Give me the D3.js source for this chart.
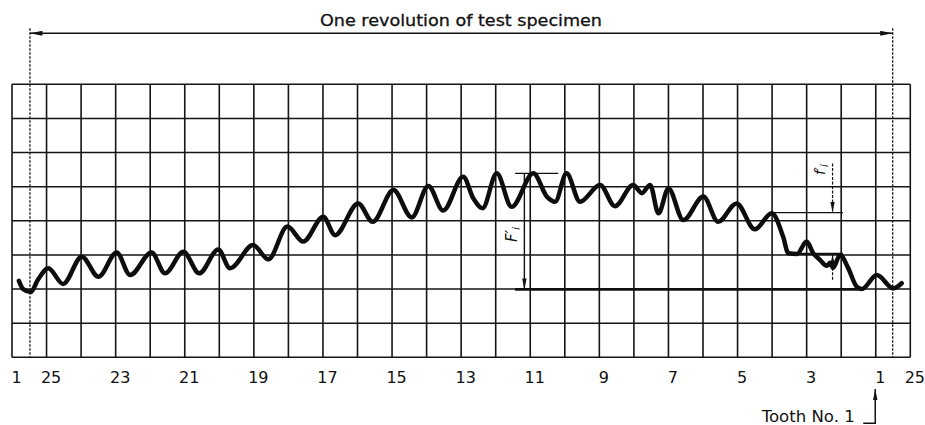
<!DOCTYPE html>
<html>
<head>
<meta charset="utf-8">
<script src="https://cdn.jsdelivr.net/npm/d3@7"></script>
<style>
  body { margin: 0; background: #fff; }
  svg { display: block; }
  text { font-family: "DejaVu Sans", sans-serif; fill: #111; }
</style>
</head>
<body>
<svg></svg>
<script>
// chart size
let vWidth = 925;
let vHeight = 425;

// tooth label positions (grid column index) and their text
let labelPos = [0, 1, 3, 5, 7, 9, 11, 13, 15, 17, 19, 21, 23, 25, 26];
let labelText = ["1", "25", "23", "21", "19", "17", "15", "13", "11", "9", "7", "5", "3", "1", "25"];

// trace of the composite deviation: position in teeth, deviation in grid units
let curveU = [0.20, 0.32, 0.54, 0.75, 1.05, 1.48, 2.02, 2.50, 3.03, 3.42, 4.04, 4.43, 4.96, 5.42,
  5.97, 6.31, 6.98, 7.42, 7.97, 8.43, 9.01, 9.35, 10.02, 10.44, 11.04, 11.57, 12.05, 12.48,
  13.06, 13.35, 13.62, 14.03, 14.46, 15.09, 15.48, 15.72, 16.05, 16.44, 17.02, 17.45, 17.98,
  18.23, 18.47, 18.71, 19.00, 19.43, 20.01, 20.44, 20.97, 21.50, 21.99, 22.32, 22.47, 22.72,
  23.00, 23.19, 23.39, 23.58, 23.68, 23.76, 23.97, 24.20, 24.45, 24.60, 25.03, 25.51, 25.75];
let curveV = [2.24, 2.00, 1.91, 2.27, 2.61, 2.15, 2.95, 2.36, 3.07, 2.41, 3.07, 2.46, 3.09, 2.46,
  3.16, 2.61, 3.29, 2.87, 3.83, 3.39, 4.12, 3.58, 4.51, 3.97, 4.90, 4.10, 5.02, 4.30,
  5.29, 4.66, 4.37, 5.39, 4.41, 5.39, 4.71, 4.56, 5.39, 4.56, 5.05, 4.43, 5.05,
  4.81, 5.05, 4.22, 4.95, 4.02, 4.71, 3.97, 4.51, 3.75, 4.22, 3.53, 3.05, 3.03,
  3.39, 3.05, 2.85, 2.68, 2.77, 2.62, 3.00, 2.62, 2.07, 2.00, 2.41, 2.02, 2.17];

// total composite deviation F'i : levels and spans
let bigLevels = [5.39, 1.99];
let bigSpanTop = [14.56, 15.81];
let bigSpanLow = [14.56, 24.6];
let bigArrowU = 14.83;
// tooth-to-tooth deviation f'i : levels, spans and arrow position
let smallLevels = [4.24, 3.03];
let smallSpanTop = [21.98, 24.05];
let smallSpanLow = [22.43, 24.05];
let smallArrowU = 23.75;

// one revolution marks
let revStart = 0.52;
let revEnd = 25.49;

let svg = d3.select('svg')
  .attr('width', vWidth)
  .attr('height', vHeight);

let x = d3.scaleLinear().domain([0, 26]).range([12, 910.3]);
let y = d3.scaleLinear().domain([0, 8]).range([357.3, 84.3]);

let defs = svg.append('defs');
defs.append('marker')
  .attr('id', 'arr')
  .attr('viewBox', '0 0 10 4')
  .attr('refX', 10)
  .attr('refY', 2)
  .attr('markerWidth', 16)
  .attr('markerHeight', 5)
  .attr('markerUnits', 'userSpaceOnUse')
  .attr('orient', 'auto-start-reverse')
  .append('path')
  .attr('d', 'M0,0 L10,2 L0,4 Z')
  .attr('fill', '#111');
defs.append('marker')
  .attr('id', 'arrS')
  .attr('viewBox', '0 0 10 4')
  .attr('refX', 10)
  .attr('refY', 2)
  .attr('markerWidth', 11)
  .attr('markerHeight', 4.5)
  .attr('markerUnits', 'userSpaceOnUse')
  .attr('orient', 'auto-start-reverse')
  .append('path')
  .attr('d', 'M0,0 L10,2 L0,4 Z')
  .attr('fill', '#111');

// grid
let grid = svg.append('g').attr('stroke', '#151515').attr('stroke-width', 1.6);
grid.selectAll('line.v')
  .data(d3.range(0, 27))
  .enter()
  .append('line')
  .attr('x1', (d) => x(d))
  .attr('x2', (d) => x(d))
  .attr('y1', y(8))
  .attr('y2', y(0));
grid.selectAll('line.h')
  .data(d3.range(0, 9))
  .enter()
  .append('line')
  .attr('x1', x(0))
  .attr('x2', x(26))
  .attr('y1', (d) => y(d))
  .attr('y2', (d) => y(d));

// revolution extension lines and dimension arrow
let dimY = 33.3;
svg.selectAll('line.ext')
  .data([revStart, revEnd])
  .enter()
  .append('line')
  .attr('x1', (d) => x(d))
  .attr('x2', (d) => x(d))
  .attr('y1', dimY - 5)
  .attr('y2', y(0))
  .attr('stroke', '#1a1a1a')
  .attr('stroke-width', 1.3)
  .attr('stroke-dasharray', '2.5,1.5');
svg.append('line')
  .attr('x1', x(revStart))
  .attr('x2', x(revEnd))
  .attr('y1', dimY)
  .attr('y2', dimY)
  .attr('stroke', '#111')
  .attr('stroke-width', 1.4)
  .attr('marker-start', 'url(#arr)')
  .attr('marker-end', 'url(#arr)');
svg.append('text')
  .attr('x', 320)
  .attr('y', 26)
  .attr('textLength', 282)
  .attr('lengthAdjust', 'spacingAndGlyphs')
  .style('font-size', '16px')
  .style('stroke', '#111')
  .style('stroke-width', 0.3)
  .text('One revolution of test specimen');

// F'i annotation
svg.append('line')
  .attr('x1', x(bigSpanTop[0])).attr('x2', x(bigSpanTop[1]))
  .attr('y1', y(bigLevels[0])).attr('y2', y(bigLevels[0]))
  .attr('stroke', '#111').attr('stroke-width', 1.4);
svg.append('line')
  .attr('x1', x(bigSpanLow[0])).attr('x2', x(bigSpanLow[1]))
  .attr('y1', y(bigLevels[1])).attr('y2', y(bigLevels[1]))
  .attr('stroke', '#111').attr('stroke-width', 2.6);
svg.append('line')
  .attr('x1', x(bigArrowU)).attr('x2', x(bigArrowU))
  .attr('y1', y(bigLevels[0])).attr('y2', y(bigLevels[1]))
  .attr('stroke', '#111').attr('stroke-width', 1.4)
  .attr('marker-end', 'url(#arrS)');
let fBig = svg.append('text')
  .attr('transform', `translate(${x(bigArrowU) - 7}, ${y(3.6)}) rotate(-90)`)
  .attr('text-anchor', 'middle')
  .style('font-size', '15px')
  .style('font-style', 'italic');
fBig.append('tspan').text('F');
fBig.append('tspan').text('′');
fBig.append('tspan').attr('dy', 3).style('font-size', '11px').text('i');

// f'i annotation
svg.append('line')
  .attr('x1', x(smallSpanTop[0])).attr('x2', x(smallSpanTop[1]))
  .attr('y1', y(smallLevels[0])).attr('y2', y(smallLevels[0]))
  .attr('stroke', '#111').attr('stroke-width', 1.4);
svg.append('line')
  .attr('x1', x(smallSpanLow[0])).attr('x2', x(smallSpanLow[1]))
  .attr('y1', y(smallLevels[1])).attr('y2', y(smallLevels[1]))
  .attr('stroke', '#111').attr('stroke-width', 2.2);
svg.append('line')
  .attr('x1', x(smallArrowU)).attr('x2', x(smallArrowU))
  .attr('y1', y(5.68)).attr('y2', y(smallLevels[0]))
  .attr('stroke', '#111').attr('stroke-width', 1.2)
  .attr('stroke-dasharray', '3,1.5')
  .attr('marker-end', 'url(#arrS)');
svg.append('line')
  .attr('x1', x(smallArrowU)).attr('x2', x(smallArrowU))
  .attr('y1', y(2.27)).attr('y2', y(smallLevels[1]))
  .attr('stroke', '#111').attr('stroke-width', 1.2)
  .attr('stroke-dasharray', '3,1.5')
  .attr('marker-end', 'url(#arrS)');
let fSmall = svg.append('text')
  .attr('transform', `translate(${x(smallArrowU) - 8}, ${y(5.5)}) rotate(-90)`)
  .attr('text-anchor', 'middle')
  .style('font-size', '14px')
  .style('font-style', 'italic');
fSmall.append('tspan').text('f');
fSmall.append('tspan').text('′');
fSmall.append('tspan').attr('dy', 3).style('font-size', '10px').text('i');

// the recorded curve
let vLine = d3.line()
  .x((d, i) => x(curveU[i]))
  .y((d, i) => y(curveV[i]))
  .curve(d3.curveMonotoneX);
svg.append('path')
  .datum(curveU)
  .attr('d', vLine)
  .attr('fill', 'none')
  .attr('stroke', '#0d0d0d')
  .attr('stroke-width', 4.5)
  .attr('stroke-linejoin', 'round')
  .attr('stroke-linecap', 'round');

// tooth labels
let axis = d3.axisBottom(x)
  .tickValues(labelPos)
  .tickFormat((d, i) => labelText[i])
  .tickSize(0)
  .tickPadding(0);
let gAxis = svg.append('g')
  .attr('transform', `translate(4, ${y(0)})`)
  .call(axis);
gAxis.select('.domain').remove();
gAxis.selectAll('text')
  .attr('y', 26)
  .attr('dy', 0)
  .style('font-family', '"DejaVu Sans", sans-serif')
  .style('font-size', '16px')
  .attr('fill', '#111');

// tooth no. 1 marker
let t1x = x(25) - 0.5;
svg.append('path')
  .attr('d', `M${t1x - 12},423.3 L${t1x},423.3 L${t1x},389`)
  .attr('fill', 'none')
  .attr('stroke', '#111')
  .attr('stroke-width', 1.5)
  .attr('marker-end', 'url(#arrS)');
svg.append('text')
  .attr('x', 761.7)
  .attr('y', 421.7)
  .attr('textLength', 93)
  .attr('lengthAdjust', 'spacingAndGlyphs')
  .style('font-size', '16px')
  .text('Tooth No. 1');
</script>
</body>
</html>
